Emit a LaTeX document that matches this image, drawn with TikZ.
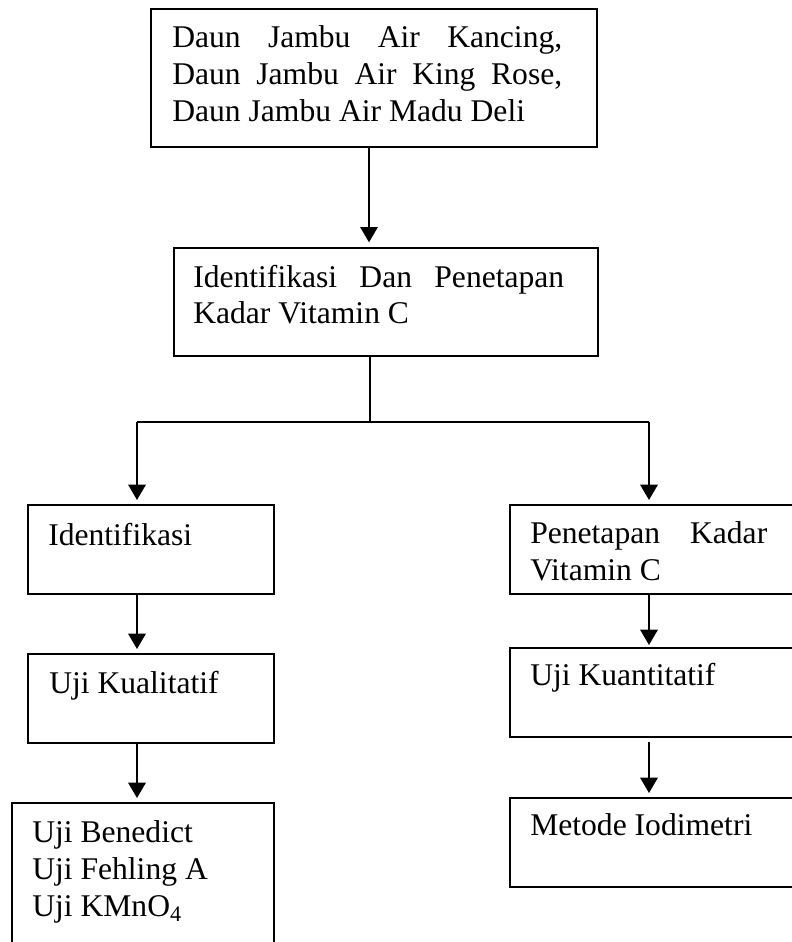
\documentclass[tikz,border=0pt]{standalone}
\usepackage{fontspec}
\setmainfont{Liberation Serif}
\usetikzlibrary{arrows.meta,calc}
\begin{document}
\begin{tikzpicture}[x=0.75pt,y=-0.75pt,
  box/.style={draw,line width=1.6pt,rectangle,inner sep=0pt,anchor=north west},
  lbl/.style={inner sep=0pt,anchor=base west,font=\fontsize{23.7}{27.75}\selectfont},
  arr/.style={line width=1.7pt,-{Triangle[width=13pt,length=11.5pt]}},
  ln/.style={line width=1.7pt}]
\useasboundingbox (0,0) rectangle (792,942);
\clip (0,0) rectangle (792,942);
% boxes
\node[box,minimum width=446*0.75pt,minimum height=138*0.75pt] (b1) at (150,8) {};
\node[box,minimum width=424*0.75pt,minimum height=108*0.75pt] (b2) at (173,247) {};
\node[box,minimum width=246*0.75pt,minimum height=89*0.75pt] (b3l) at (27,504) {};
\node[box,minimum width=300*0.75pt,minimum height=89*0.75pt] (b3r) at (509,504) {};
\node[box,minimum width=246*0.75pt,minimum height=89*0.75pt] (b4l) at (27,653) {};
\node[box,minimum width=300*0.75pt,minimum height=89*0.75pt] (b4r) at (509,647) {};
\node[box,minimum width=262*0.75pt,minimum height=160*0.75pt] (b5l) at (11,802) {};
\node[box,minimum width=300*0.75pt,minimum height=89*0.75pt] (b5r) at (509,797) {};
% texts
\node[lbl] (t1) at (172,48) {\vtop{\baselineskip=27.75pt
  \hbox to 292.5pt{Daun Jambu Air Kancing,}
  \hbox to 292.5pt{Daun Jambu Air King Rose,}
  \hbox{Daun Jambu Air Madu Deli}}};
\node[lbl] (t2) at (193,287) {\vtop{\baselineskip=27pt
  \hbox to 278.25pt{Identifikasi Dan Penetapan}
  \hbox{Kadar Vitamin C}}};
\node[lbl] (t3l) at (48,545) {Identifikasi};
\node[lbl] (t3r) at (530,543) {\vtop{\baselineskip=27.75pt
  \hbox to 177.75pt{Penetapan Kadar}
  \hbox{Vitamin C}}};
\node[lbl] (t4l) at (49,693) {Uji Kualitatif};
\node[lbl] (t4r) at (530,685) {Uji Kuantitatif};
\node[lbl] (t5l) at (32,842) {\vtop{\baselineskip=28pt
  \hbox{Uji Benedict}
  \hbox{Uji Fehling A}
  \hbox{Uji KMnO\textsubscript{4}}}};
\node[lbl] (t5r) at (530,835) {Metode Iodimetri};
% connectors
\coordinate (a1) at (369,0);
\coordinate (j) at (370,422);
\coordinate (jl) at (137,422);
\coordinate (jr) at (649,422);
\draw[arr,shorten >=3.5pt] (b1.south -| a1) -- (b2.north -| a1);
\draw[ln] (b2.south -| j) -- (j);
\draw[ln] (jl) -- (jr);
\draw[arr,shorten >=3pt] (jl) -- (b3l.north -| jl);
\draw[arr,shorten >=3pt] (jr) -- (b3r.north -| jr);
\draw[arr,shorten >=3pt] (b3l.south -| jl) -- (b4l.north -| jl);
\draw[arr,shorten >=3pt] (b4l.south -| jl) -- (b5l.north -| jl);
\draw[arr,shorten >=1.5pt] (b3r.south -| jr) -- (b4r.north -| jr);
\draw[arr,shorten <=3pt,shorten >=3pt] (b4r.south -| jr) -- (b5r.north -| jr);
\end{tikzpicture}
\end{document}
